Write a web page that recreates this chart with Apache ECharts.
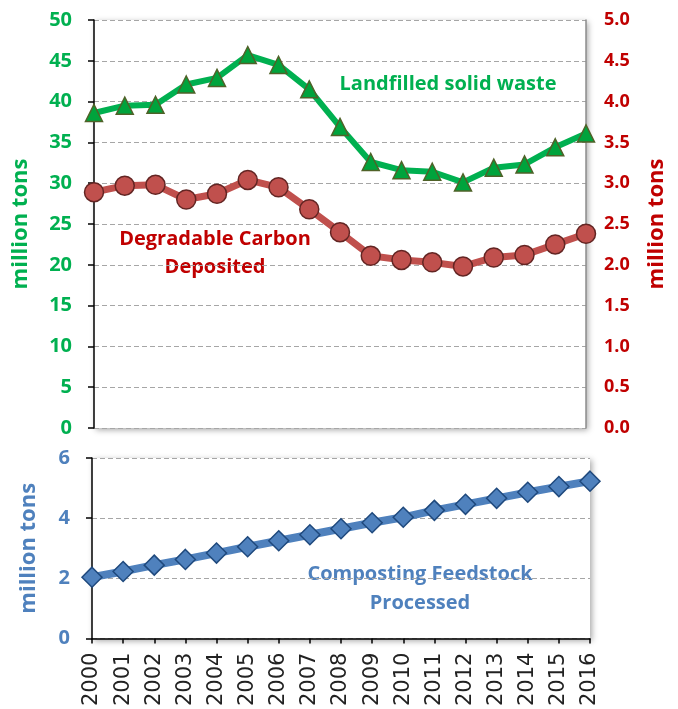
<!DOCTYPE html>
<html>
<head>
<meta charset="utf-8">
<script src="https://cdn.jsdelivr.net/npm/echarts@6/dist/echarts.min.js"></script>
<style>html,body{margin:0;padding:0;background:#fff}#c{width:678px;height:709px}</style>
</head>
<body>
<div id="c"></div>
<script>
const years = ['2000','2001','2002','2003','2004','2005','2006','2007','2008','2009','2010','2011','2012','2013','2014','2015','2016'];
const landfilled = [38.6, 39.5, 39.6, 42.1, 42.9, 45.7, 44.5, 41.5, 36.9, 32.6, 31.6, 31.4, 30.1, 31.9, 32.3, 34.4, 36.1];
const carbon = [2.89, 2.97, 2.98, 2.80, 2.87, 3.04, 2.95, 2.68, 2.40, 2.11, 2.06, 2.03, 1.98, 2.09, 2.12, 2.25, 2.38];
const compost = [2.04, 2.23, 2.44, 2.63, 2.84, 3.05, 3.25, 3.45, 3.65, 3.85, 4.03, 4.26, 4.46, 4.66, 4.86, 5.05, 5.23];
const leftTicks = [0, 50, 5];
const rightTicks = [0, 5, 0.5];
const bottomTicks = [0, 6, 2];

const GREEN = '#00B050', RED = '#C00000', BLUE = '#4F81BD';
const FONT = '"Open Sans", "Noto Sans", sans-serif';
const chart = echarts.init(document.getElementById('c'), null, {renderer: 'canvas'});

const split = {show: true, lineStyle: {color: '#A6A6A6', type: [5, 3], width: 1}};
const gridShadow = {show: true, borderWidth: 0, backgroundColor: '#fff', shadowColor: 'rgba(0,0,0,0.35)', shadowBlur: 6, shadowOffsetX: 2, shadowOffsetY: 2};

chart.setOption({
  animation: false,
  grid: [
    Object.assign({left: 94, right: 92, top: 20, height: 408}, gridShadow),
    Object.assign({left: 92, right: 88, top: 458, height: 182}, gridShadow)
  ],
  xAxis: [
    {type: 'category', gridIndex: 0, data: years, boundaryGap: false,
     axisLine: {show: false}, axisTick: {show: false}, axisLabel: {show: false}},
    {type: 'category', gridIndex: 1, data: years, boundaryGap: false,
     axisLine: {show: true, lineStyle: {color: '#000', width: 1.5}},
     axisTick: {show: true, inside: false, length: 5, lineStyle: {color: '#000', width: 1.5}},
     axisLabel: {rotate: 90, color: '#222', fontFamily: '"DejaVu Sans", sans-serif', fontSize: 21, margin: 14}}
  ],
  yAxis: [
    {type: 'value', gridIndex: 0, min: leftTicks[0], max: leftTicks[1], interval: leftTicks[2], position: 'left',
     axisLine: {show: true, lineStyle: {color: '#000', width: 1.5}},
     axisTick: {show: true, length: 6, lineStyle: {color: '#000', width: 1.5}},
     axisLabel: {color: GREEN, fontFamily: FONT, fontWeight: 'bold', fontSize: 20, margin: 22},
     splitLine: split,
     name: 'million tons', nameLocation: 'middle', nameRotate: 90, nameGap: 62,
     nameTextStyle: {color: GREEN, fontFamily: FONT, fontWeight: 'bold', fontSize: 22}},
    {type: 'value', gridIndex: 0, min: rightTicks[0], max: rightTicks[1], interval: rightTicks[2], position: 'right',
     axisLine: {show: true, lineStyle: {color: '#8C8C8C', width: 1.5}},
     axisTick: {show: false},
     axisLabel: {color: RED, fontFamily: FONT, fontWeight: 'bold', fontSize: 18, margin: 18,
                 formatter: v => v.toFixed(1)},
     splitLine: {show: false},
     name: 'million tons', nameLocation: 'middle', nameRotate: 90, nameGap: 60,
     nameTextStyle: {color: RED, fontFamily: FONT, fontWeight: 'bold', fontSize: 22}},
    {type: 'value', gridIndex: 1, min: bottomTicks[0], max: bottomTicks[1], interval: bottomTicks[2], position: 'left',
     axisLine: {show: true, lineStyle: {color: '#000', width: 1.5}},
     axisTick: {show: true, length: 6, lineStyle: {color: '#000', width: 1.5}},
     axisLabel: {color: BLUE, fontFamily: FONT, fontWeight: 'bold', fontSize: 20, margin: 22},
     splitLine: split,
     name: 'million tons', nameLocation: 'middle', nameRotate: 90, nameGap: 52,
     nameTextStyle: {color: BLUE, fontFamily: FONT, fontWeight: 'bold', fontSize: 22}}
  ],
  series: [
    {name: 'Landfilled solid waste', type: 'line', xAxisIndex: 0, yAxisIndex: 0, data: landfilled,
     lineStyle: {color: GREEN, width: 6}, symbol: 'triangle', symbolSize: 17,
     itemStyle: {color: '#00A33C', borderColor: '#4F6228', borderWidth: 1.5}, z: 3},
    {name: 'Degradable Carbon Deposited', type: 'line', xAxisIndex: 0, yAxisIndex: 1, data: carbon,
     lineStyle: {color: '#C0504D', width: 7}, symbol: 'circle', symbolSize: 19,
     itemStyle: {color: '#C0504D', borderColor: '#632523', borderWidth: 1.5}, z: 2},
    {name: 'Composting Feedstock Processed', type: 'line', xAxisIndex: 1, yAxisIndex: 2, data: compost,
     lineStyle: {color: BLUE, width: 8}, symbol: 'diamond', symbolSize: 20,
     itemStyle: {color: BLUE, borderColor: '#1F497D', borderWidth: 1.5}}
  ],
  graphic: [
    {type: 'text', x: 448, y: 84, style: {text: 'Landfilled solid waste', fill: GREEN, font: 'bold 20px ' + FONT, align: 'center', verticalAlign: 'middle'}},
    {type: 'text', x: 215, y: 239, style: {text: 'Degradable Carbon', fill: RED, font: 'bold 20px ' + FONT, align: 'center', verticalAlign: 'middle'}},
    {type: 'text', x: 215, y: 267, style: {text: 'Deposited', fill: RED, font: 'bold 20px ' + FONT, align: 'center', verticalAlign: 'middle'}},
    {type: 'text', x: 420, y: 574, style: {text: 'Composting Feedstock', fill: BLUE, font: 'bold 20px ' + FONT, align: 'center', verticalAlign: 'middle'}},
    {type: 'text', x: 420, y: 603, style: {text: 'Processed', fill: BLUE, font: 'bold 20px ' + FONT, align: 'center', verticalAlign: 'middle'}}
  ]
});
</script>
</body>
</html>
